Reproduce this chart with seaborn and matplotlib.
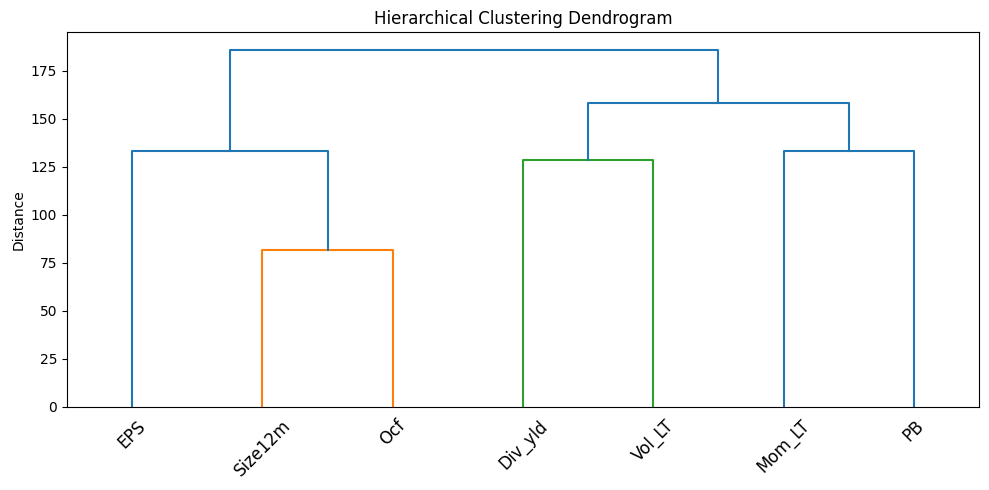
import matplotlib
matplotlib.use("Agg")
import matplotlib.pyplot as plt
import pandas as pd
import seaborn as sns

# leaves in the order they appear along the x axis
leaf_labels = ["EPS", "Size12m", "Ocf", "Div_yld", "Vol_LT", "Mom_LT", "PB"]

# linkage steps: (left child, right child, distance); new ids start at 7
merge_left = [1, 3, 0, 5, 8, 9]
merge_right = [2, 4, 7, 6, 10, 11]
merge_height = [81.8, 128.6, 133.3, 133.4, 158.4, 185.9]

n = len(leaf_labels)
threshold = 0.7 * max(merge_height)
palette = ["C1", "C2", "C3", "C4", "C5"]

# x position / height of every node (leaves sit at 5, 15, 25, ...)
pos = {i: 5 + 10 * i for i in range(n)}
height = {i: 0.0 for i in range(n)}
colour = {}
next_col = 0

rows = []
for k, (a, b, h) in enumerate(zip(merge_left, merge_right, merge_height)):
    node = n + k
    pos[node] = (pos[a] + pos[b]) / 2
    height[node] = h
    # links below the threshold get their own colour per cluster
    if h < threshold:
        inherited = colour.get(a) or colour.get(b)
        if inherited is None:
            inherited = palette[next_col]
            next_col += 1
        colour[node] = inherited
        c = inherited
    else:
        c = "C0"
    xs = [pos[a], pos[a], pos[b], pos[b]]
    ys = [height[a], h, h, height[b]]
    for x, y in zip(xs, ys):
        rows.append({"link": k, "x": x, "y": y, "col": c})

links = pd.DataFrame(rows)

fig, ax = plt.subplots(figsize=(9.89, 4.9), dpi=100)
sns.lineplot(data=links, x="x", y="y", units="link", estimator=None,
             sort=False, hue="col",
             palette={c: c for c in links["col"].unique()},
             linewidth=1.5, legend=False, ax=ax)

ax.set_xlim(0, 10 * n)
ax.set_ylim(0, max(merge_height) * 1.05)
ax.set_xticks([pos[i] for i in range(n)])
ax.set_xticklabels(leaf_labels, rotation=45, fontsize=12)
for t in ax.get_xticklines():
    t.set_visible(False)

ax.set_title("Hierarchical Clustering Dendrogram")
ax.set_xlabel("")
ax.set_ylabel("Distance")

fig.subplots_adjust(left=0.0677, right=0.9899, top=0.9347, bottom=0.1694)
plt.savefig("out.png")
plt.close()
